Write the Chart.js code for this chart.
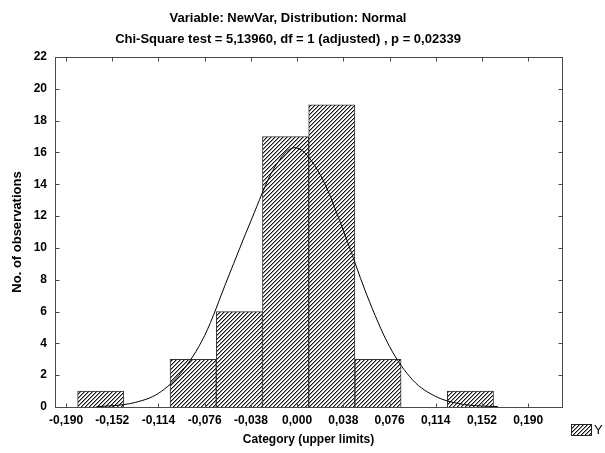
<!DOCTYPE html>
<html>
<head>
<meta charset="utf-8">
<script src="https://cdn.jsdelivr.net/npm/chart.js@4/dist/chart.umd.min.js"></script>
<style>
  html, body { margin: 0; padding: 0; background: #fff; }
  #wrap { width: 605px; height: 453px; }
</style>
</head>
<body>
<div id="wrap"><canvas id="histChart" width="605" height="453"></canvas></div>
<script>
// Titles
const titleLines = [
    'Variable: NewVar, Distribution: Normal',
    'Chi-Square test = 5,13960, df = 1 (adjusted) , p = 0,02339'
];
const xTitle = 'Category (upper limits)';
const yTitle = 'No. of observations';
const seriesName = 'Y';

// Category tick labels (upper limits)
const xTicks = [-0.190, -0.152, -0.114, -0.076, -0.038, 0.000, 0.038, 0.076, 0.114, 0.152, 0.190];

// Histogram bins (bar midpoints) and counts
const binMids = [-0.1615, -0.1235, -0.0855, -0.0475, -0.0095, 0.0285, 0.0665, 0.1045, 0.1425, 0.1805];
const counts  = [1, 0, 3, 6, 17, 19, 3, 0, 1, 0];

// Fitted normal curve
const curveX = [-0.165, -0.152, -0.133, -0.114, -0.095, -0.076, -0.057, -0.038, -0.019, -0.002, 0.019, 0.038, 0.057, 0.076, 0.095, 0.114, 0.133, 0.152, 0.165];
const curveY = [0.03, 0.08, 0.29, 0.86, 2.2, 4.5, 8.1, 11.7, 15.0, 16.3, 14.6, 11.1, 7.1, 3.8, 1.7, 0.66, 0.21, 0.06, 0.03];

// Y axis range
const yMax = 22;
const yStep = 2;

Chart.defaults.font.family = '"Liberation Sans", Arial, sans-serif';
Chart.defaults.font.size = 12;
Chart.defaults.font.weight = 'bold';
Chart.defaults.color = '#000';

// Diagonal hatch fill like the original
function makeHatch() {
    const c = document.createElement('canvas');
    c.width = 4;
    c.height = 4;
    const g = c.getContext('2d');
    g.fillStyle = '#fff';
    g.fillRect(0, 0, 4, 4);
    g.fillStyle = '#999';
    for (let i = 0; i < 4; i++) g.fillRect(i, (4 - i) % 4, 1, 1);
    g.fillStyle = '#111';
    for (let i = 0; i < 4; i++) g.fillRect(i, 3 - i, 1, 1);
    return g.createPattern(c, 'repeat');
}
const hatch = makeHatch();

const fmt = v => (Math.abs(v) < 1e-9 ? 0 : v).toFixed(3).replace('.', ',');

// Frame, inside ticks, title and legend
const decorations = {
    id: 'decorations',
    afterDatasetsDraw(chart) {
        const { ctx, chartArea: a, scales: { x, y } } = chart;
        const L = Math.round(a.left) + 0.5, R = Math.round(a.right) + 0.5;
        const T = Math.round(a.top) + 0.5, B = Math.round(a.bottom) + 0.5;
        ctx.save();
        ctx.strokeStyle = '#4a4a4a';
        ctx.lineWidth = 1;
        ctx.strokeRect(L, T, R - L, B - T);
        ctx.beginPath();
        x.ticks.forEach(t => {
            const px = Math.round(x.getPixelForValue(t.value)) + 0.5;
            ctx.moveTo(px, B); ctx.lineTo(px, B - 4);
            ctx.moveTo(px, T); ctx.lineTo(px, T + 4);
        });
        y.ticks.forEach(t => {
            const py = Math.round(y.getPixelForValue(t.value)) + 0.5;
            ctx.moveTo(L, py); ctx.lineTo(L + 4, py);
            ctx.moveTo(R, py); ctx.lineTo(R - 4, py);
        });
        ctx.stroke();
        ctx.restore();
    },
    afterDraw(chart) {
        const { ctx } = chart;
        ctx.save();
        ctx.fillStyle = '#000';
        ctx.font = 'bold 13px "Liberation Sans", Arial, sans-serif';
        ctx.textAlign = 'center';
        ctx.textBaseline = 'middle';
        ctx.fillText(titleLines[0], 288, 18);
        ctx.fillText(titleLines[1], 288, 39);

        // legend
        ctx.fillStyle = hatch;
        ctx.fillRect(571, 424, 20, 11);
        ctx.strokeStyle = '#222';
        ctx.strokeRect(571.5, 424.5, 20, 11);
        ctx.fillStyle = '#000';
        ctx.font = '13px "Liberation Sans", Arial, sans-serif';
        ctx.textAlign = 'left';
        ctx.fillText(chart.data.datasets[1].label, 594, 430);
        ctx.restore();
    }
};

const ctx = document.getElementById('histChart').getContext('2d');
const histChart = new Chart(ctx, {
    type: 'bar',
    data: {
        datasets: [
            {
                type: 'line',
                label: 'Normal',
                data: curveX.map((v, i) => ({ x: v, y: curveY[i] })),
                borderColor: '#000',
                borderWidth: 1,
                pointRadius: 0,
                cubicInterpolationMode: 'monotone',
                fill: false,
                order: 0
            },
            {
                type: 'bar',
                label: seriesName,
                data: binMids.map((v, i) => ({ x: v, y: counts[i] })),
                backgroundColor: hatch,
                borderColor: '#333',
                borderWidth: 1,
                barPercentage: 1,
                categoryPercentage: 1,
                order: 1
            }
        ]
    },
    options: {
        responsive: false,
        animation: false,
        layout: { padding: { left: 0, right: 43, top: 57, bottom: 0 } },
        plugins: {
            legend: { display: false },
            title: { display: false },
            tooltip: { enabled: false }
        },
        scales: {
            x: {
                type: 'linear',
                min: -0.1991,
                max: 0.2178,
                offset: false,
                grid: { display: false, drawTicks: false },
                border: { display: false },
                afterBuildTicks: scale => { scale.ticks = xTicks.map(v => ({ value: v })); },
                afterFit: scale => { scale.height = 46; },
                ticks: {
                    autoSkip: false,
                    maxRotation: 0,
                    padding: 6,
                    callback: v => fmt(v)
                },
                title: {
                    display: true,
                    text: xTitle,
                    font: { size: 12, weight: 'bold' },
                    padding: { top: 0, bottom: 6 }
                }
            },
            y: {
                min: 0,
                max: yMax,
                grid: { display: false, drawTicks: false },
                border: { display: false },
                afterFit: scale => { scale.width = 55; },
                ticks: { stepSize: yStep, padding: 8 },
                title: {
                    display: true,
                    text: yTitle,
                    font: { size: 13, weight: 'bold' },
                    padding: { top: 10, bottom: 0 }
                }
            }
        }
    },
    plugins: [decorations]
});
</script>
</body>
</html>
